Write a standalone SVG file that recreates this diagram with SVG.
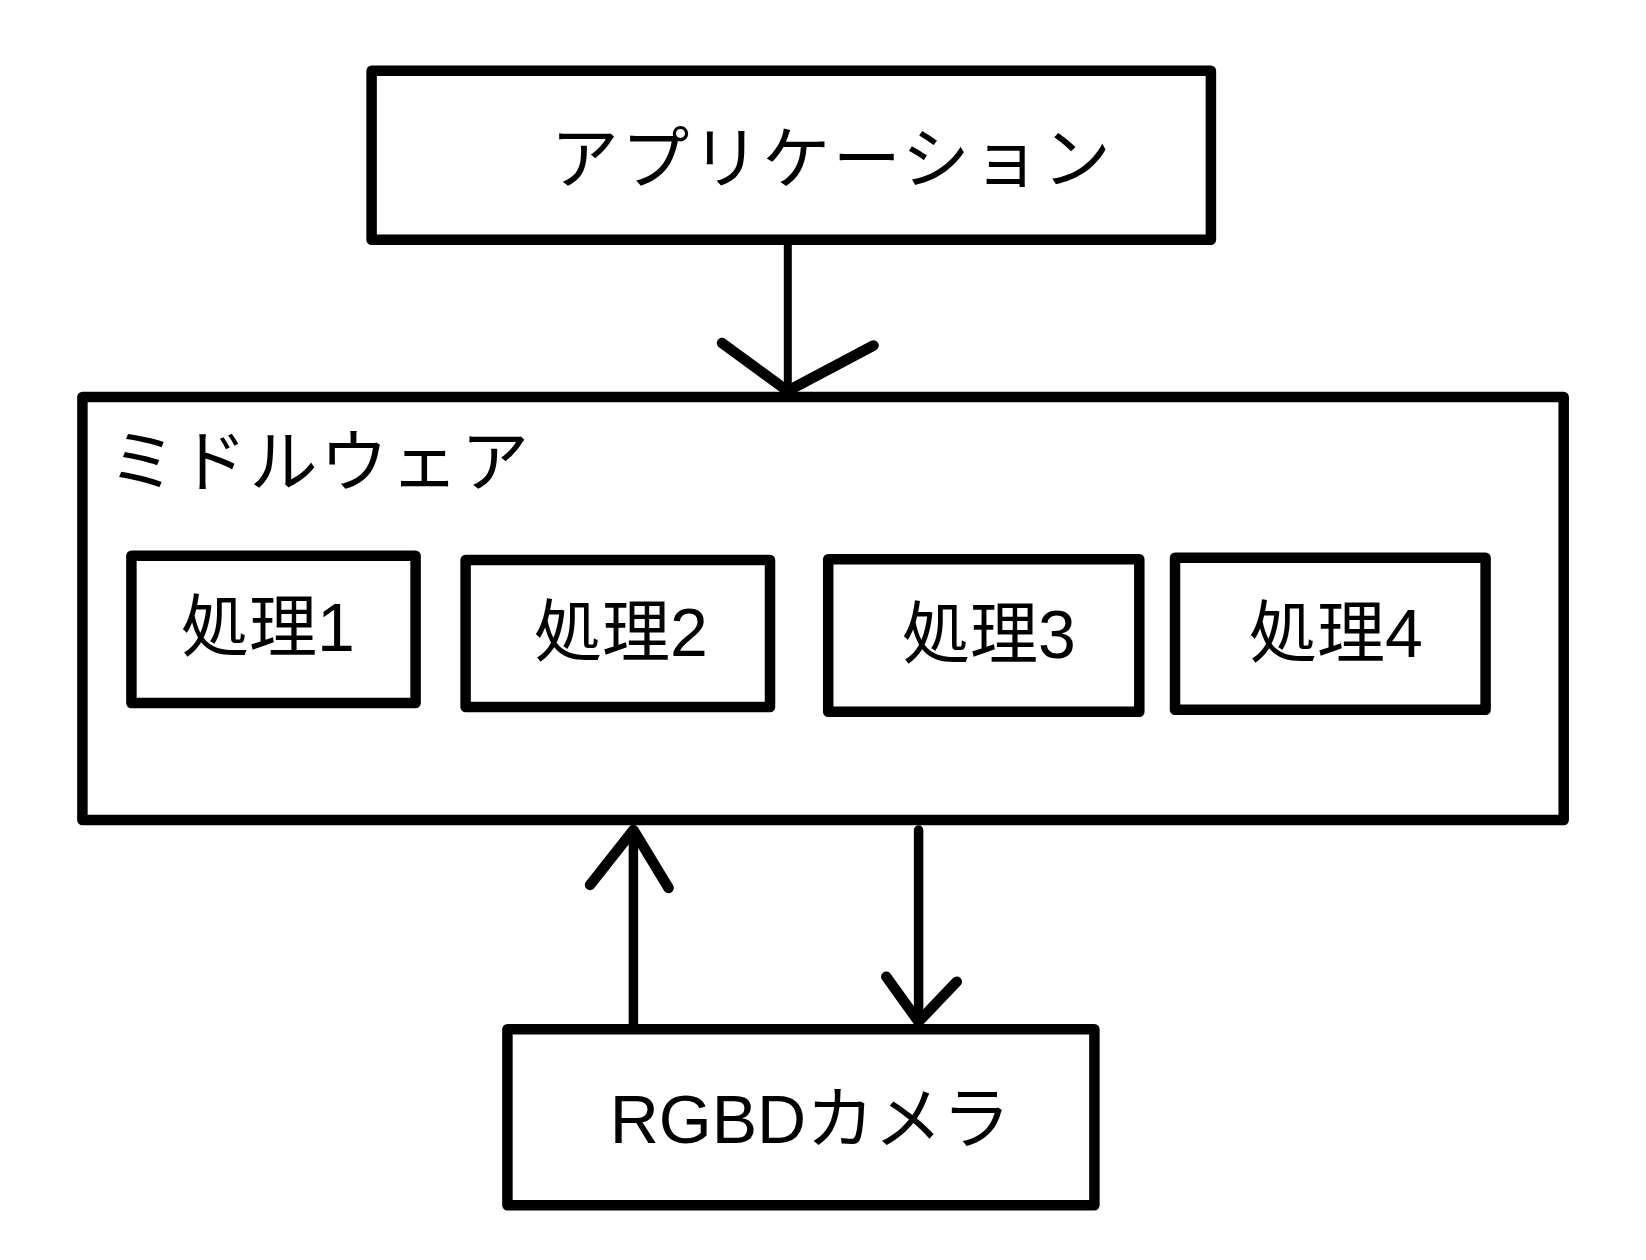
<svg xmlns="http://www.w3.org/2000/svg" width="1646" height="1260" viewBox="0 0 1646 1260">
<style>
.box{fill:#fff;stroke:#000;stroke-width:10.5;stroke-linejoin:round}
.lbl{font-family:"Liberation Sans","Noto Sans CJK JP",sans-serif;font-size:68px;fill:#000;text-anchor:middle}
.kana{letter-spacing:2.5px}
.ln{fill:none;stroke:#000;stroke-linecap:round;stroke-linejoin:round}
</style>
<rect width="1646" height="1260" fill="#fff"/>
<g id="middleware">
<rect class="box" x="82.4" y="397" width="1481.3" height="423"/>
<text class="lbl kana" x="320" y="486">ミドルウェア</text>
</g>
<g id="application">
<rect class="box" x="371.6" y="70.8" width="839.3" height="168.9"/>
<text class="lbl kana" x="832" y="183">アプリケーション</text>
</g>
<g id="proc1">
<rect class="box" x="131.4" y="555.8" width="284.2" height="147.2"/>
<text class="lbl" x="268" y="651">処理1</text>
</g>
<g id="proc2">
<rect class="box" x="465.6" y="560" width="304.4" height="147"/>
<text class="lbl" x="621" y="656">処理2</text>
</g>
<g id="proc3">
<rect class="box" x="828.2" y="559.3" width="311.1" height="152.4"/>
<text class="lbl" x="989" y="658">処理3</text>
</g>
<g id="proc4">
<rect class="box" x="1175" y="557.7" width="310.6" height="152"/>
<text class="lbl" x="1336" y="657">処理4</text>
</g>
<g id="camera">
<rect class="box" x="507.4" y="1029.3" width="587" height="176"/>
<text class="lbl" x="810" y="1143">RGBDカメラ</text>
</g>
<g id="connectors">
<line class="ln" x1="787.8" y1="240" x2="787.8" y2="391" stroke-width="8"/>
<polyline class="ln" points="722,343 787.6,391 873.5,345.5" stroke-width="10.5"/>
<line class="ln" x1="633.4" y1="1029" x2="633.4" y2="831" stroke-width="9.5"/>
<polyline class="ln" points="590,885 633.4,830 668.6,888" stroke-width="10.5"/>
<line class="ln" x1="918.6" y1="830" x2="918.6" y2="1021" stroke-width="9.5"/>
<polyline class="ln" points="886.3,976.7 918.6,1021.7 956.8,981.7" stroke-width="10.5"/>
</g>
</svg>
